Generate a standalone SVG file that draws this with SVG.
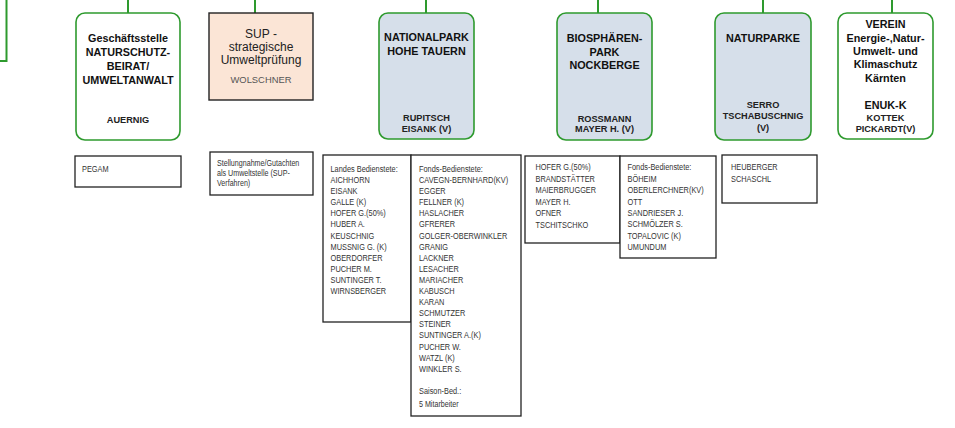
<svg xmlns="http://www.w3.org/2000/svg" width="955" height="428" viewBox="0 0 955 428">
<defs>
<style>
.gbox{fill:#ffffff;stroke:#2e9a2e;stroke-width:1.6}
.bbox{fill:#d6dfea;stroke:#2e9a2e;stroke-width:1.6}
.pbox{fill:#fbe5d6;stroke:#222;stroke-width:1.4}
.dbox{fill:#ffffff;stroke:#222;stroke-width:1.3}
.conn{fill:none;stroke:#2e9a2e;stroke-width:2}
.t{font-family:"Liberation Sans",Arial,sans-serif;font-weight:bold;font-size:10.8px;fill:#111;text-anchor:middle}
.n{font-family:"Liberation Sans",Arial,sans-serif;font-weight:bold;font-size:9.2px;fill:#222;text-anchor:middle}
.s{font-family:"Liberation Sans",Arial,sans-serif;font-size:12px;fill:#222;text-anchor:middle}
.sg{font-family:"Liberation Sans",Arial,sans-serif;font-size:9.4px;fill:#555;text-anchor:middle}
.d{font-family:"Liberation Sans",Arial,sans-serif;font-size:9px;fill:#333}
.ds{font-family:"Liberation Sans",Arial,sans-serif;font-size:8.7px;fill:#333}
</style>
</defs>
<g id="connectors">
<path class="conn" d="M0,61 H6.5 V0"/>
<line class="conn" x1="128" y1="0" x2="128" y2="13"/>
<line class="conn" x1="255" y1="0" x2="255" y2="13"/>
<line class="conn" x1="426" y1="0" x2="426" y2="13"/>
<line class="conn" x1="598" y1="0" x2="598" y2="13"/>
<line class="conn" x1="763" y1="0" x2="763" y2="13"/>
<line class="conn" x1="892" y1="0" x2="892" y2="13"/>
</g>
<g id="geschaeftsstelle">
<rect class="gbox" x="76" y="13" width="104" height="127" rx="9"/>
<text class="t" x="128" y="41.5">Geschäftsstelle</text>
<text class="t" x="128" y="56">NATURSCHUTZ-</text>
<text class="t" x="128" y="69.5">BEIRAT/</text>
<text class="t" x="128" y="83.7">UMWELTANWALT</text>
<text class="n" x="128" y="122.5">AUERNIG</text>
</g>
<g id="sup">
<rect class="pbox" x="209" y="13" width="104" height="87"/>
<text class="s" x="261" y="37.5">SUP -</text>
<text class="s" x="261" y="51">strategische</text>
<text class="s" x="261" y="64.3">Umweltprüfung</text>
<text class="sg" x="261" y="82.5">WOLSCHNER</text>
</g>
<g id="nationalpark">
<rect class="bbox" x="379" y="13" width="95" height="126" rx="9"/>
<text class="t" x="426.5" y="41">NATIONALPARK</text>
<text class="t" x="426.5" y="55.4">HOHE TAUERN</text>
<text class="n" x="426.5" y="120.6">RUPITSCH</text>
<text class="n" x="426.5" y="131.6">EISANK (V)</text>
</g>
<g id="biosphaerenpark">
<rect class="bbox" x="557" y="13" width="95" height="127" rx="9"/>
<text class="t" x="604.5" y="42">BIOSPHÄREN-</text>
<text class="t" x="604.5" y="56">PARK</text>
<text class="t" x="604.5" y="69.4">NOCKBERGE</text>
<text class="n" x="604.5" y="121.6">ROSSMANN</text>
<text class="n" x="604.5" y="132.3">MAYER H. (V)</text>
</g>
<g id="naturparke">
<rect class="bbox" x="715" y="13" width="96" height="127" rx="9"/>
<text class="t" x="763" y="42">NATURPARKE</text>
<text class="n" x="763" y="108.3">SERRO</text>
<text class="n" x="763" y="119.3">TSCHABUSCHNIG</text>
<text class="n" x="763" y="130.6">(V)</text>
</g>
<g id="verein">
<rect class="gbox" x="838" y="13" width="95" height="126" rx="9"/>
<text class="t" x="885.5" y="27.7">VEREIN</text>
<text class="t" x="885.5" y="42">Energie-,Natur-</text>
<text class="t" x="885.5" y="55.4">Umwelt- und</text>
<text class="t" x="885.5" y="67.7">Klimaschutz</text>
<text class="t" x="885.5" y="82">Kärnten</text>
<text class="t" x="885.5" y="108.7">ENUK-K</text>
<text class="n" x="885.5" y="121">KOTTEK</text>
<text class="n" x="885.5" y="132.3">PICKARDT(V)</text>
</g>
<g id="pegam">
<rect class="dbox" x="75" y="156" width="106" height="31"/>
<g transform="translate(82,0) scale(0.82,1)">
<text class="d" x="0" y="172">PEGAM</text>
</g>
</g>
<g id="stellungnahme">
<rect class="dbox" x="210" y="152" width="103" height="43"/>
<g transform="translate(217,0) scale(0.82,1)">
<text class="ds" x="0" y="166">Stellungnahme/Gutachten</text>
<text class="ds" x="0" y="176">als Umweltstelle (SUP-</text>
<text class="ds" x="0" y="186">Verfahren)</text>
</g>
</g>
<g id="np-landes">
<rect class="dbox" x="323" y="155" width="88" height="167"/>
<g transform="translate(330.5,0) scale(0.82,1)">
<text class="d" x="0" y="172">
<tspan x="0" dy="0">Landes Bedienstete:</tspan>
<tspan x="0" dy="11.1">AICHHORN</tspan>
<tspan x="0" dy="11.1">EISANK</tspan>
<tspan x="0" dy="11.1">GALLE (K)</tspan>
<tspan x="0" dy="11.1">HOFER G.(50%)</tspan>
<tspan x="0" dy="11.1">HUBER A.</tspan>
<tspan x="0" dy="11.1">KEUSCHNIG</tspan>
<tspan x="0" dy="11.1">MUSSNIG G. (K)</tspan>
<tspan x="0" dy="11.1">OBERDORFER</tspan>
<tspan x="0" dy="11.1">PUCHER M.</tspan>
<tspan x="0" dy="11.1">SUNTINGER T.</tspan>
<tspan x="0" dy="11.1">WIRNSBERGER</tspan>
</text>
</g>
</g>
<g id="np-fonds">
<rect class="dbox" x="411" y="155" width="110" height="261"/>
<g transform="translate(419,0) scale(0.82,1)">
<text class="d" x="0" y="172">
<tspan x="0" dy="0">Fonds-Bedienstete:</tspan>
<tspan x="0" dy="11.1">CAVEGN-BERNHARD(KV)</tspan>
<tspan x="0" dy="11.1">EGGER</tspan>
<tspan x="0" dy="11.1">FELLNER (K)</tspan>
<tspan x="0" dy="11.1">HASLACHER</tspan>
<tspan x="0" dy="11.1">GFRERER</tspan>
<tspan x="0" dy="11.1">GOLGER-OBERWINKLER</tspan>
<tspan x="0" dy="11.1">GRANIG</tspan>
<tspan x="0" dy="11.1">LACKNER</tspan>
<tspan x="0" dy="11.1">LESACHER</tspan>
<tspan x="0" dy="11.1">MARIACHER</tspan>
<tspan x="0" dy="11.1">KABUSCH</tspan>
<tspan x="0" dy="11.1">KARAN</tspan>
<tspan x="0" dy="11.1">SCHMUTZER</tspan>
<tspan x="0" dy="11.1">STEINER</tspan>
<tspan x="0" dy="11.1">SUNTINGER A.(K)</tspan>
<tspan x="0" dy="11.1">PUCHER W.</tspan>
<tspan x="0" dy="11.1">WATZL (K)</tspan>
<tspan x="0" dy="11.1">WINKLER S.</tspan>
<tspan x="0" dy="22.6">Saison-Bed.:</tspan>
</text>
<text class="ds" x="0" y="407">5 Mitarbeiter</text>
</g>
</g>
<g id="bp-landes">
<rect class="dbox" x="525" y="156" width="95" height="87"/>
<g transform="translate(535.5,0) scale(0.82,1)">
<text class="d" x="0" y="170.5">
<tspan x="0" dy="0">HOFER G.(50%)</tspan>
<tspan x="0" dy="11.5">BRANDSTÄTTER</tspan>
<tspan x="0" dy="11.5">MAIERBRUGGER</tspan>
<tspan x="0" dy="11.5">MAYER H.</tspan>
<tspan x="0" dy="11.5">OFNER</tspan>
<tspan x="0" dy="11.5">TSCHITSCHKO</tspan>
</text>
</g>
</g>
<g id="bp-fonds">
<rect class="dbox" x="620" y="156" width="96" height="102"/>
<g transform="translate(627.5,0) scale(0.82,1)">
<text class="d" x="0" y="170.5">
<tspan x="0" dy="0">Fonds-Bedienstete:</tspan>
<tspan x="0" dy="11.4">BÖHEIM</tspan>
<tspan x="0" dy="11.4">OBERLERCHNER(KV)</tspan>
<tspan x="0" dy="11.4">OTT</tspan>
<tspan x="0" dy="11.4">SANDRIESER J.</tspan>
<tspan x="0" dy="11.4">SCHMÖLZER S.</tspan>
<tspan x="0" dy="11.4">TOPALOVIC (K)</tspan>
<tspan x="0" dy="11.4">UMUNDUM</tspan>
</text>
</g>
</g>
<g id="naturparke-staff">
<rect class="dbox" x="722" y="155" width="95" height="48"/>
<g transform="translate(731,0) scale(0.82,1)">
<text class="d" x="0" y="170.5">
<tspan x="0" dy="0">HEUBERGER</tspan>
<tspan x="0" dy="11.7">SCHASCHL</tspan>
</text>
</g>
</g>
</svg>
